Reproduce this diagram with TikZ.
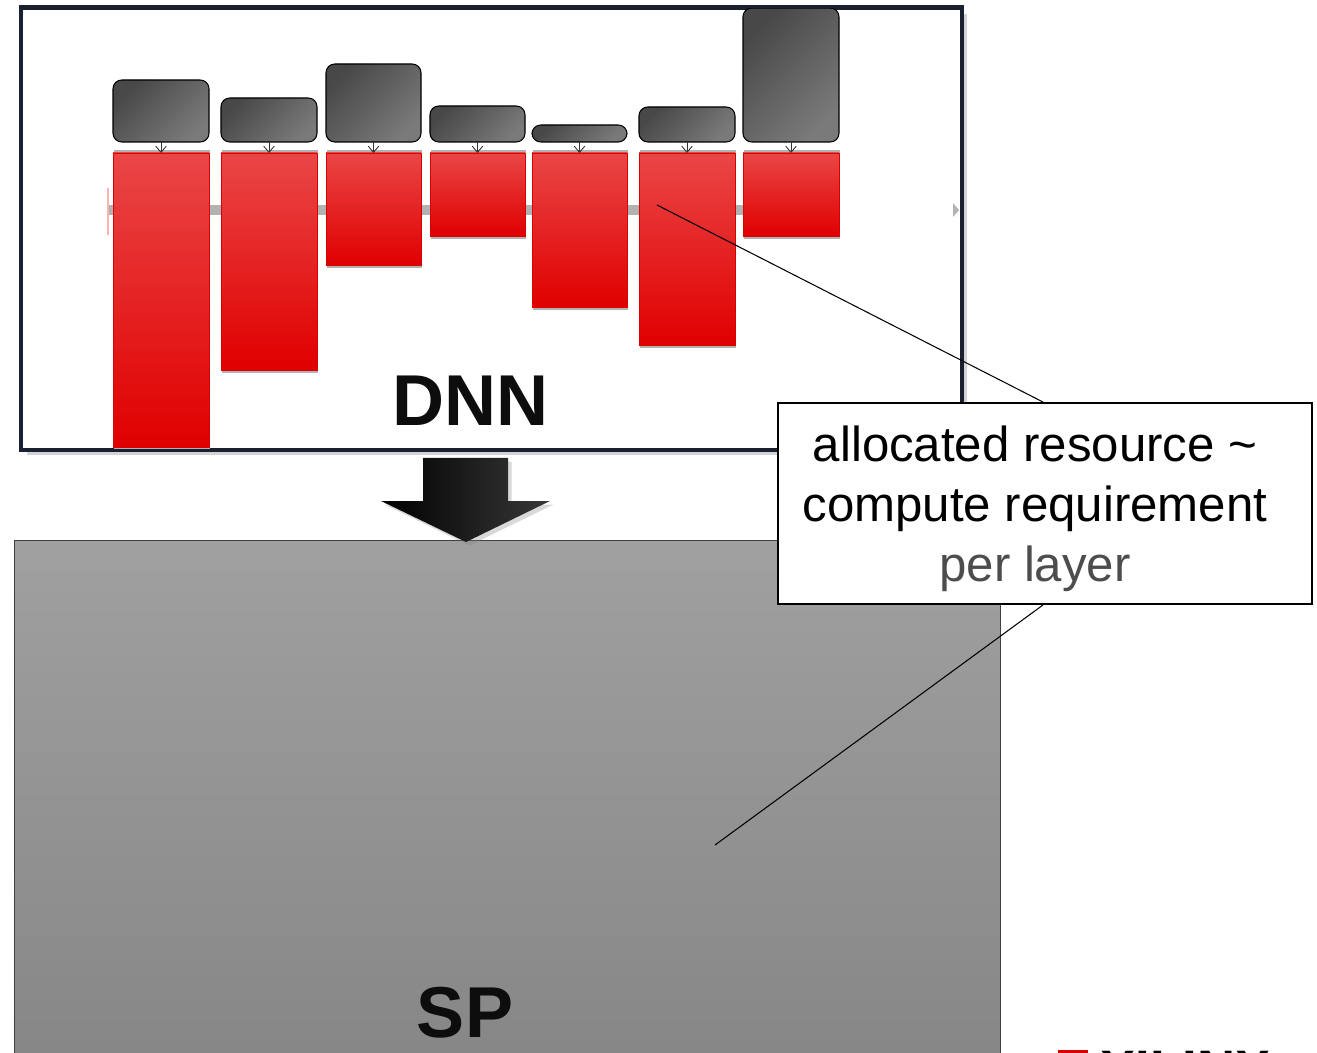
\documentclass[tikz,border=0pt]{standalone}
\usepackage[usenames,dvipsnames]{xcolor}
\usepackage{fontspec}
\setmainfont{Liberation Sans}
\usetikzlibrary{arrows.meta,shadows,positioning}

\definecolor{barTop}{RGB}{234,70,70}
\definecolor{barRed}{RGB}{224,0,0}
\definecolor{cellDark}{RGB}{72,72,72}
\definecolor{cellLight}{RGB}{122,122,122}
\definecolor{frameNavy}{RGB}{27,32,48}
\definecolor{axisGray}{RGB}{178,178,178}
\definecolor{spTop}{RGB}{160,160,160}
\definecolor{spBot}{RGB}{134,134,134}
\definecolor{noteGray}{RGB}{77,77,77}

\tikzset{
  dnnframe/.style={fill=white, draw=frameNavy, line width=1.7pt, inner sep=0pt,
    drop shadow={shadow xshift=3pt, shadow yshift=-3pt, opacity=.35}},
  layerbar/.style={draw=red!85!black, line width=.4pt, top color=barTop,
    bottom color=barRed, inner sep=0pt, outer sep=0pt},
  cellbox/.style={draw=black, line width=.6pt, rounded corners=5pt,
    top color=cellDark, bottom color=cellLight, shading angle=45,
    inner sep=0pt, outer sep=0pt},
  feed/.style={draw=black!80, line width=.5pt, -{Straight Barb[length=3.5pt,width=6pt]}},
  bigword/.style={font=\bfseries\fontsize{41}{49}\selectfont, text=black!95, inner sep=0pt},
  spbox/.style={draw=black!75, line width=.8pt, top color=spTop, bottom color=spBot,
    inner sep=0pt},
  notebox/.style={draw=black, line width=1.1pt, fill=white, inner sep=0pt},
  notetext/.style={font=\fontsize{28}{34}\selectfont, align=center, inner sep=0pt}
}

\begin{document}
\begin{tikzpicture}[x=0.02cm, y=-0.02cm]
\useasboundingbox (0,0) rectangle (1317,1053);
\clip (0,0) rectangle (1317,1053);

\node[dnnframe, minimum width=940*0.02cm, minimum height=441*0.02cm, anchor=north west] (dnn) at (20,7) {};
\draw[axisGray, line width=0.2cm] (108,210) -- (840,210);
\fill[axisGray] (953,203) -- (959,210) -- (953,217) -- cycle;
\draw[red!30, line width=.6pt] (108,188) -- (108,235);

\foreach \i/\xl/\xr/\bt/\bb in {1/113/209/80/447, 2/221/317/98/370, 3/326/421/64/265,
    4/430/525/106/236, 5/532/627/125/307, 6/639/735/107/345, 7/743/839/8/236}{
  \fill[black!30] (\xl+1,150) rectangle (\xr+1,\bb+3);
  \node[layerbar, minimum width=(\xr-\xl)*0.02cm, minimum height=(\bb-153)*0.02cm,
    anchor=north west] (bar\i) at (\xl,153) {};
  \node[cellbox, minimum width=(\xr-\xl)*0.02cm, minimum height=(142-\bt)*0.02cm,
    anchor=south west] (cell\i) at (\xl,142) {};
  \draw[feed] (cell\i.south) -- (bar\i.north);
}
\draw[frameNavy, line width=1.7pt] (dnn.north west) rectangle (dnn.south east);
\node[bigword, anchor=base] (dnnlabel) at (471,426) {DNN};

\node[spbox, minimum width=986*0.02cm, minimum height=530*0.02cm, anchor=north west] (sp) at (14,540) {};
\node[bigword, anchor=base] (splabel) at (465,1037) {SP};

\shade[left color=black, right color=black!78, drop shadow={shadow xshift=2pt, shadow yshift=-2pt, opacity=.3}]
  (423,458) -- (508,458) -- (508,501) -- (550,501) -- (466,542) -- (381,501) -- (423,501) -- cycle;

\coordinate (ptrTop) at (657,205);
\coordinate (ptrBot) at (715,845);
\node[notebox, minimum width=534*0.02cm, minimum height=201*0.02cm] (note) at (1045,503.5) {};
\draw[black, line width=.6pt] (ptrTop) -- (note.north -| 1043,0);
\draw[black, line width=.6pt] (note.south -| 1043,0) -- (ptrBot);
\node[notetext] (noteText) at (1035,509) {allocated resource \textasciitilde\\compute requirement\\\textcolor{noteGray}{per layer}};

\fill[red!85!black] (1058,1050) rectangle (1088,1060);
\node[anchor=north west, inner sep=0pt, font=\bfseries\fontsize{30}{30}\selectfont] (logo) at (1100,1051) {XILINX};
\end{tikzpicture}
\end{document}
